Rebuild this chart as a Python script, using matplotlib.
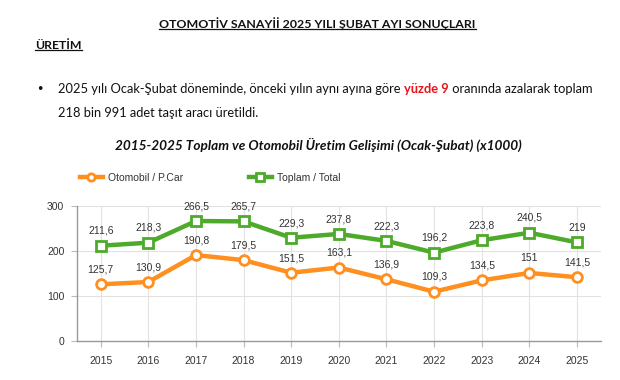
import matplotlib
matplotlib.use("Agg")
import matplotlib.pyplot as plt
from matplotlib.lines import Line2D

years = ["2015", "2016", "2017", "2018", "2019", "2020", "2021", "2022", "2023", "2024", "2025"]
total = [211.6, 218.3, 266.5, 265.7, 229.3, 237.8, 222.3, 196.2, 223.8, 240.5, 219.0]
cars = [125.7, 130.9, 190.8, 179.5, 151.5, 163.1, 136.9, 109.3, 134.5, 151.0, 141.5]
total_labels = ["211,6", "218,3", "266,5", "265,7", "229,3", "237,8", "222,3", "196,2", "223,8", "240,5", "219"]
car_labels = ["125,7", "130,9", "190,8", "179,5", "151,5", "163,1", "136,9", "109,3", "134,5", "151", "141,5"]
yticks = [0, 100, 200, 300]

ORANGE = "#FF8F1F"
GREEN = "#4EAA2A"
HEAD = "Lato"
CHART = "Liberation Sans"

fig = plt.figure(figsize=(6.2, 3.8), dpi=100)
fig.patch.set_facecolor("white")


def underlined(x, y, s, size, **kw):
    t = fig.text(x, y, s, fontfamily=HEAD, fontweight="bold", fontsize=size, color="#111111", **kw)
    fig.canvas.draw()
    bb = t.get_window_extent().transformed(fig.transFigure.inverted())
    yl = bb.y0 + 0.003
    fig.add_artist(Line2D([bb.x0, bb.x1], [yl, yl], transform=fig.transFigure, color="#111111", lw=0.9))
    return t


underlined(0.512, 0.925, "OTOMOTİV SANAYİİ 2025 YILI ŞUBAT AYI SONUÇLARI", 8.9, ha="center", va="baseline")
underlined(0.057, 0.872, "ÜRETİM", 8.8, ha="left", va="baseline")

# bullet paragraph
y1, y2 = 0.755, 0.691
fig.text(0.058, y1, "•", fontfamily="DejaVu Sans", fontsize=9, color="#111111", va="baseline")
p1 = fig.text(0.094, y1, "2025 yılı Ocak-Şubat döneminde, önceki yılın aynı ayına göre ",
              fontfamily=HEAD, fontsize=9.3, color="#111111", va="baseline")
p2 = fig.text(0, 0, "yüzde 9", fontfamily=HEAD, fontsize=9.3, fontweight="bold", color="#E8141B", va="baseline")
p3 = fig.text(0, 0, " oranında azalarak toplam", fontfamily=HEAD, fontsize=9.3, color="#111111", va="baseline")
fig.canvas.draw()
inv = fig.transFigure.inverted()
bb1 = p1.get_window_extent().transformed(inv)
p2.set_position((bb1.x1, y1))
fig.canvas.draw()
bb2 = p2.get_window_extent().transformed(inv)
p3.set_position((bb2.x1, y1))
fig.text(0.094, y2, "218 bin 991 adet taşıt aracı üretildi.", fontfamily=HEAD, fontsize=9.3,
         color="#111111", va="baseline")

fig.text(0.513, 0.605, "2015-2025 Toplam ve Otomobil Üretim Gelişimi (Ocak-Şubat) (x1000)",
         fontfamily=HEAD, fontsize=9.8, fontweight="bold", style="italic", color="#111111",
         ha="center", va="baseline")

ax = fig.add_axes([0.124, 0.103, 0.845, 0.355])
x = list(range(len(years)))
ax.plot(x, cars, color=ORANGE, lw=3.2, marker="o", ms=7, mfc="white", mec=ORANGE, mew=2,
        clip_on=False, zorder=3, label="Otomobil / P.Car")
ax.plot(x, total, color=GREEN, lw=3.2, marker="s", ms=7, mfc="white", mec=GREEN, mew=2,
        clip_on=False, zorder=3, label="Toplam / Total")
for i in x:
    ax.annotate(car_labels[i], (i, cars[i]), xytext=(0, 7), textcoords="offset points",
                ha="center", va="bottom", fontsize=7.5, fontfamily=CHART, color="#333333")
    ax.annotate(total_labels[i], (i, total[i]), xytext=(0, 7), textcoords="offset points",
                ha="center", va="bottom", fontsize=7.5, fontfamily=CHART, color="#333333")

ax.set_xlim(-0.5, len(years) - 0.5)
ax.set_ylim(0, 300)
ax.set_xticks(x)
ax.set_xticklabels(years, fontfamily=CHART, fontsize=7.5, color="#333333")
ax.set_yticks(yticks)
ax.set_yticklabels([str(v) for v in yticks], fontfamily=CHART, fontsize=7.5, color="#333333")
ax.tick_params(axis="both", length=4, color="#BBBBBB", width=0.8)
ax.tick_params(axis="x", pad=7)
ax.tick_params(axis="y", pad=5)
ax.grid(True, color="#E2E2E2", lw=0.8)
ax.set_axisbelow(True)
for s in ("top", "right"):
    ax.spines[s].set_visible(False)
for s in ("left", "bottom"):
    ax.spines[s].set_color("#999999")
    ax.spines[s].set_linewidth(1)

leg = ax.legend(loc="center left", bbox_to_anchor=(0.006, 1.207), ncol=2, frameon=False,
                prop={"family": CHART, "size": 7.5}, handlelength=2.2, columnspacing=6.3,
                handletextpad=0.5, markerscale=0.75, borderaxespad=0, borderpad=0)
for t in leg.get_texts():
    t.set_color("#333333")

fig.savefig("out.png", dpi=100)
